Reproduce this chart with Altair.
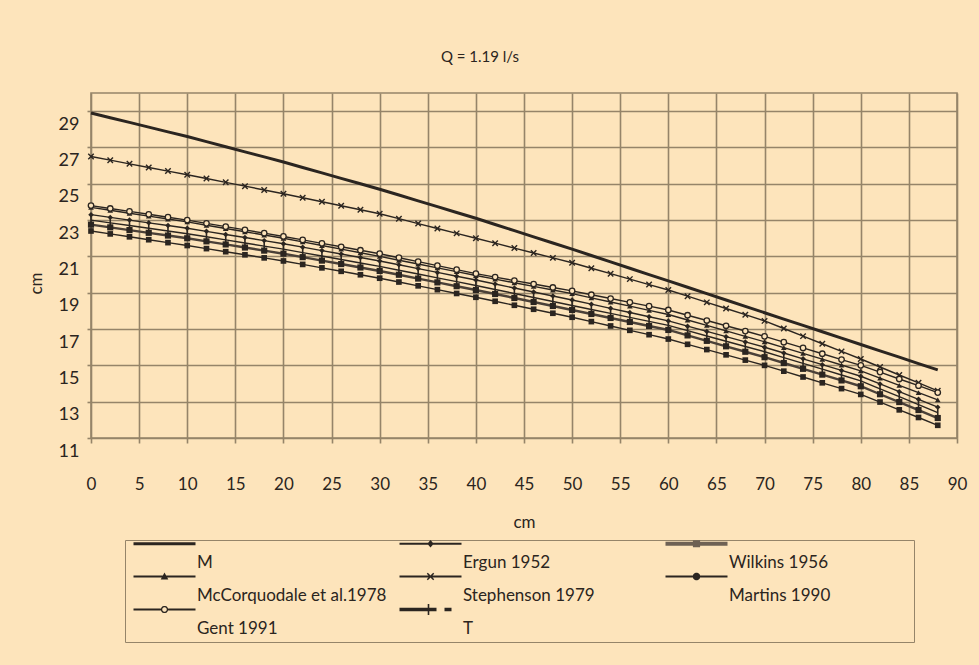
import altair as alt
import pandas as pd
import math

# ---------------- data ----------------
x_cm = [0, 2, 4, 6, 8, 10, 12, 14, 16, 18, 20, 22, 24, 26, 28, 30, 32, 34, 36, 38, 40, 42,
        44, 46, 48, 50, 52, 54, 56, 58, 60, 62, 64, 66, 68, 70, 72, 74, 76, 78, 80, 82, 84, 86, 88]

# legend order (the legend is filled column by column)
series_order = ["M", "McCorquodale et al.1978", "Gent 1991", "Ergun 1952",
                "Stephenson 1979", "T", "Wilkins 1956", "Martins 1990"]

m_vals = [28.90, 28.64, 28.38, 28.12, 27.86, 27.60, 27.32, 27.04, 26.76, 26.48, 26.20, 25.90, 25.60,
          25.30, 25.00, 24.70, 24.38, 24.06, 23.74, 23.42, 23.10, 22.76, 22.42, 22.08, 21.74, 21.40,
          21.05, 20.70, 20.35, 20.00, 19.65, 19.30, 18.95, 18.60, 18.25, 17.90, 17.55, 17.20, 16.85,
          16.50, 16.15, 15.80, 15.45, 15.10, 14.75]
stephenson_vals = [26.50, 26.30, 26.10, 25.90, 25.70, 25.50, 25.29, 25.08, 24.87, 24.66, 24.45, 24.23,
                   24.01, 23.79, 23.57, 23.35, 23.08, 22.81, 22.54, 22.27, 22.00, 21.73, 21.46, 21.19,
                   20.92, 20.65, 20.35, 20.05, 19.75, 19.45, 19.15, 18.81, 18.47, 18.13, 17.79, 17.45,
                   17.03, 16.61, 16.19, 15.77, 15.35, 14.91, 14.47, 14.04, 13.60]
gent_vals = [23.80, 23.64, 23.48, 23.32, 23.16, 23.00, 22.82, 22.64, 22.46, 22.28, 22.10, 21.91, 21.72,
             21.53, 21.34, 21.15, 20.93, 20.71, 20.49, 20.27, 20.05, 19.86, 19.67, 19.48, 19.29, 19.10,
             18.89, 18.68, 18.47, 18.26, 18.05, 17.76, 17.47, 17.18, 16.89, 16.60, 16.28, 15.96, 15.64,
             15.32, 15.00, 14.63, 14.25, 13.88, 13.50]
mccorquodale_vals = [23.70, 23.54, 23.38, 23.22, 23.06, 22.90, 22.72, 22.54, 22.36, 22.18, 22.00, 21.80,
                     21.60, 21.40, 21.20, 21.00, 20.79, 20.58, 20.37, 20.16, 19.95, 19.75, 19.55, 19.35,
                     19.15, 18.95, 18.72, 18.49, 18.26, 18.03, 17.80, 17.50, 17.20, 16.90, 16.60, 16.30,
                     15.98, 15.66, 15.34, 15.02, 14.70, 14.30, 13.90, 13.50, 13.10]
ergun_vals = [23.30, 23.15, 23.00, 22.85, 22.70, 22.55, 22.38, 22.21, 22.04, 21.87, 21.70, 21.51, 21.32,
              21.13, 20.94, 20.75, 20.54, 20.33, 20.12, 19.91, 19.70, 19.48, 19.26, 19.04, 18.82, 18.60,
              18.37, 18.14, 17.91, 17.68, 17.45, 17.16, 16.87, 16.58, 16.29, 16.00, 15.68, 15.36, 15.04,
              14.72, 14.40, 13.98, 13.55, 13.13, 12.70]
t_vals = [23.00, 22.85, 22.70, 22.55, 22.40, 22.25, 22.08, 21.91, 21.74, 21.57, 21.40, 21.21, 21.02,
          20.83, 20.64, 20.45, 20.24, 20.03, 19.82, 19.61, 19.40, 19.18, 18.96, 18.74, 18.52, 18.30,
          18.08, 17.86, 17.64, 17.42, 17.20, 16.91, 16.62, 16.33, 16.04, 15.75, 15.43, 15.11, 14.79,
          14.47, 14.15, 13.71, 13.28, 12.84, 12.40]
wilkins_vals = [22.75, 22.60, 22.45, 22.30, 22.15, 22.00, 21.83, 21.66, 21.49, 21.32, 21.15, 20.96,
                20.77, 20.58, 20.39, 20.20, 19.99, 19.78, 19.57, 19.36, 19.15, 18.93, 18.71, 18.49,
                18.27, 18.05, 17.83, 17.61, 17.39, 17.17, 16.95, 16.65, 16.35, 16.05, 15.75, 15.45,
                15.13, 14.81, 14.49, 14.17, 13.85, 13.41, 12.98, 12.54, 12.10]
martins_vals = [22.40, 22.24, 22.08, 21.92, 21.76, 21.60, 21.43, 21.26, 21.09, 20.92, 20.75, 20.56,
                20.37, 20.18, 19.99, 19.80, 19.59, 19.38, 19.17, 18.96, 18.75, 18.53, 18.31, 18.09,
                17.87, 17.65, 17.41, 17.17, 16.93, 16.69, 16.45, 16.16, 15.87, 15.58, 15.29, 15.00,
                14.68, 14.36, 14.04, 13.72, 13.40, 12.98, 12.55, 12.13, 11.70]

x_ticks = [0, 5, 10, 15, 20, 25, 30, 35, 40, 45, 50, 55, 60, 65, 70, 75, 80, 85, 90]
y_ticks = [11, 13, 15, 17, 19, 21, 23, 25, 27, 29]

values = {
    "M": m_vals,
    "Ergun 1952": ergun_vals,
    "Wilkins 1956": wilkins_vals,
    "McCorquodale et al.1978": mccorquodale_vals,
    "Stephenson 1979": stephenson_vals,
    "Martins 1990": martins_vals,
    "Gent 1991": gent_vals,
    "T": t_vals,
}
rows = [{"x": xv, "y": yv, "series": s} for s, vals in values.items() for xv, yv in zip(x_cm, vals)]
df = pd.DataFrame(rows)
legend_df = pd.DataFrame({"series": series_order})

# ---------------- style ----------------
BG = "#FDE4BB"
INK = "#2b2520"
GRID = "#958469"
FONT = "Lato"

# legend symbols: a line with its marker, drawn above the label like the reference
SYM_SIZE = 100                     # symbol "size" used by the legend layout
K = math.sqrt(SYM_SIZE) / 2        # px per path unit
HL = 31.0                          # half length of the legend line (px)
CX = 26.0                          # horizontal shift so the line starts at the entry's left edge
LY = -19.0                         # vertical shift of the line above the label


def poly(pts, hole=False):
    pts = list(pts)
    n = len(pts)
    a = sum(pts[i][0] * pts[(i + 1) % n][1] - pts[(i + 1) % n][0] * pts[i][1] for i in range(n))
    if (a < 0) != hole:
        pts = pts[::-1]
    return "M" + "L".join(f"{(x + CX) / K:.4f},{(y + LY) / K:.4f}" for x, y in pts) + "Z"


def bar(x1, x2, th):
    return poly([(x1, -th / 2), (x2, -th / 2), (x2, th / 2), (x1, th / 2)])


def ngon(r, hole=False, n=14):
    return poly([(r * math.cos(2 * math.pi * k / n), r * math.sin(2 * math.pi * k / n)) for k in range(n)], hole)


def seg(x1, y1, x2, y2, th):
    dx, dy = x2 - x1, y2 - y1
    L = math.hypot(dx, dy)
    nx, ny = -dy / L * th / 2, dx / L * th / 2
    return poly([(x1 + nx, y1 + ny), (x2 + nx, y2 + ny), (x2 - nx, y2 - ny), (x1 - nx, y1 - ny)])


THIN = 1.8
sym = {
    "M": bar(-HL, HL, 3.2),
    "Ergun 1952": bar(-HL, HL, THIN) + poly([(0, -3.8), (3.2, 0), (0, 3.8), (-3.2, 0)]),
    "Wilkins 1956": bar(-HL, HL, 4.2) + poly([(-3.6, -3.6), (3.6, -3.6), (3.6, 3.6), (-3.6, 3.6)]),
    "McCorquodale et al.1978": bar(-HL, HL, THIN) + poly([(0, -4), (3.8, 3), (-3.8, 3)]),
    "Stephenson 1979": bar(-HL, HL, THIN) + seg(-3.2, -3.2, 3.2, 3.2, 1.5) + seg(-3.2, 3.2, 3.2, -3.2, 1.5),
    "Martins 1990": bar(-HL, HL, THIN) + ngon(3.8),
    "Gent 1991": bar(-HL, -3.6, THIN) + bar(3.6, HL, THIN) + ngon(3.7) + ngon(2.3, hole=True),
    "T": bar(-HL, 6, 3.4) + poly([(-2.8, -5.5), (-1.2, -5.5), (-1.2, 5.5), (-2.8, 5.5)]) + bar(14, 21, 3.4),
}
fill_of = {"Wilkins 1956": "#6e6154"}
legend_paths = [sym[s] for s in series_order]
legend_fills = [fill_of.get(s, INK) for s in series_order]

# ---------------- encodings ----------------
X = alt.X("x:Q", scale=alt.Scale(domain=[0, 90], nice=False, zero=False),
          axis=alt.Axis(values=x_ticks, title="cm", grid=True, gridColor=GRID, gridWidth=1.6,
                        domain=False, ticks=True, tickColor=GRID, tickSize=5, tickWidth=1.6,
                        labelPadding=33, labelFont=FONT, labelFontSize=17, labelColor=INK,
                        labelFlush=False, titleFont=FONT, titleFontSize=17, titleColor=INK,
                        titleFontWeight="normal", titleY=84, titleBaseline="middle"))
Y = alt.Y("y:Q", scale=alt.Scale(domain=[11, 30], nice=False, zero=False),
          axis=alt.Axis(values=y_ticks, title="cm", grid=True, gridColor=GRID, gridWidth=1.6,
                        domain=False, ticks=True, tickColor=GRID, tickSize=4, tickWidth=1.6,
                        labelPadding=8, labelOffset=13, labelFont=FONT, labelFontSize=18,
                        labelColor=INK, labelFlush=False, titleFont=FONT, titleFontSize=17,
                        titleColor=INK, titleFontWeight="normal", titleX=-55, titleY=190,
                        titleAngle=270, titleAlign="center", titleBaseline="middle"))

base = alt.Chart(df)


def only(names):
    return alt.FieldOneOfPredicate(field="series", oneOf=names)


thin_lines = base.transform_filter(
    only(["Ergun 1952", "McCorquodale et al.1978", "Stephenson 1979", "Martins 1990", "Gent 1991", "T"])
).mark_line(color=INK, strokeWidth=1.4).encode(x=X, y=Y, detail="series:N")

wilkins_line = base.transform_filter(only(["Wilkins 1956"])).mark_line(
    color="#4a4038", strokeWidth=2.4).encode(x=X, y=Y)

m_line = base.transform_filter(only(["M"])).mark_line(color=INK, strokeWidth=3).encode(x=X, y=Y)

marker_specs = [
    ("Ergun 1952", dict(shape="diamond", size=30, filled=True, color=INK)),
    ("Wilkins 1956", dict(shape="square", size=38, filled=True, color=INK)),
    ("McCorquodale et al.1978", dict(shape="triangle-up", size=32, filled=True, color=INK)),
    ("Stephenson 1979", dict(shape="M-1,-1L1,1M-1,1L1,-1", size=30, filled=False, color=INK, strokeWidth=1.4)),
    ("Martins 1990", dict(shape="square", size=32, filled=True, color=INK)),
    ("T", dict(shape="M0,-1L0,1", size=70, filled=False, color=INK, strokeWidth=1.6)),
    ("Gent 1991", dict(shape="circle", size=30, filled=True, fill=BG, stroke=INK, strokeWidth=1.3)),
]
marker_layers = [
    base.transform_filter(only([name])).mark_point(opacity=1, **kw).encode(x=X, y=Y)
    for name, kw in marker_specs
]

# trailing no-break spaces (kept by a final zero-width space) widen the last column
PAD = "\u00a0" * 18 + "\u200b"
LEG = alt.Legend(
    title="\u200b", titleFontSize=6, titlePadding=3, titleFont=FONT,
    orient="none", legendX=34, legendY=447, columns=3, gridAlign="all",
    columnPadding=9, rowPadding=0, symbolSize=SYM_SIZE, symbolStrokeWidth=0,
    symbolFillColor=INK, labelFont=FONT, labelFontSize=17, labelColor=INK,
    labelOffset=50, labelLimit=500, strokeColor=GRID, padding=5,
    labelExpr="(datum.label == 'Wilkins 1956' || datum.label == 'Martins 1990') ? datum.label + '"
              + PAD + "' : datum.label",
)

legend_layer = alt.Chart(legend_df).transform_filter("false").mark_point(
    filled=True, opacity=1, strokeWidth=0, size=SYM_SIZE
).encode(
    shape=alt.Shape("series:N", scale=alt.Scale(domain=series_order, range=legend_paths), legend=LEG),
    fill=alt.Fill("series:N", scale=alt.Scale(domain=series_order, range=legend_fills), legend=LEG),
)

chart = alt.layer(m_line, thin_lines, wilkins_line, *marker_layers, legend_layer).properties(
    width=866, height=345,
    title=alt.TitleParams("Q = 1.19 l/s", anchor="middle", frame="group", font=FONT, fontSize=15,
                          color=INK, fontWeight="normal", offset=28, dx=-44),
    padding={"left": 91, "top": 93, "right": 22, "bottom": 227},
    autosize=alt.AutoSizeParams(type="none"),
    background=BG,
).configure_view(stroke=GRID, strokeWidth=1.6)

chart.save("out.html", embed_options={"renderer": "svg", "actions": False})
